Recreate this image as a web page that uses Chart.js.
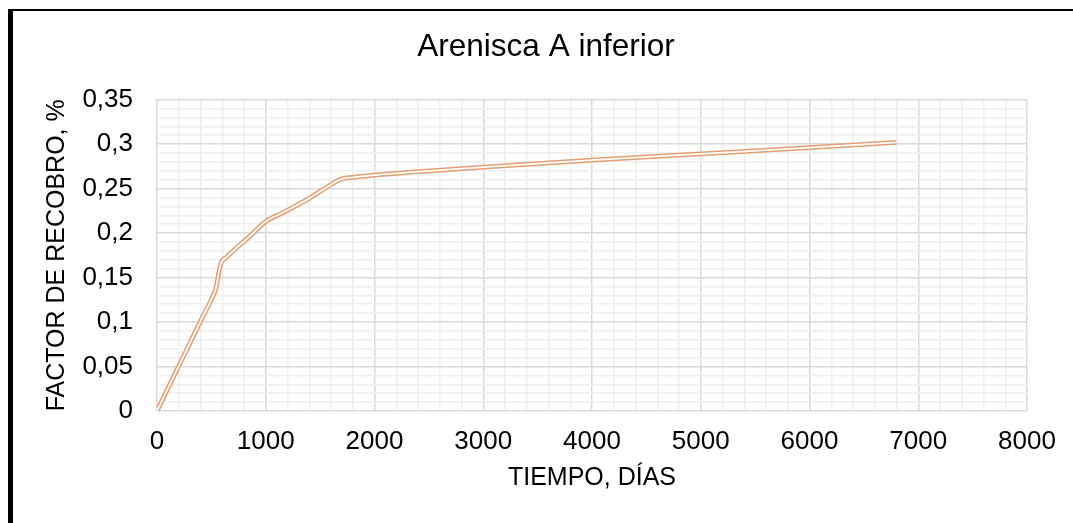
<!DOCTYPE html>
<html>
<head>
<meta charset="utf-8">
<script src="https://cdn.jsdelivr.net/npm/chart.js@4"></script>
<style>
  body { margin: 0; background: #fff; overflow: hidden; }
  .marco { position: absolute; left: 8px; top: 9px; width: 2000px; height: 1000px;
           border-left: 5px solid #000; border-top: 2px solid #000; }
  #grafico { position: absolute; left: 0; top: 0; }
</style>
</head>
<body>
<div class="marco"></div>
<canvas id="grafico" width="1073" height="523"></canvas>
<script>
// datos
const dias = [0, 130, 270, 400, 510, 540, 585, 640, 700, 850, 1000, 1150, 1400, 1620, 1700, 1800, 2000, 3000, 4000, 5000, 6000, 6800];
const factorRecobro = [0, 0.033, 0.068, 0.101, 0.128, 0.137, 0.165, 0.173, 0.18, 0.196, 0.213, 0.2225, 0.239, 0.256, 0.261, 0.2625, 0.265, 0.274, 0.282, 0.289, 0.296, 0.302];
const ticksX = ["0", "1000", "2000", "3000", "4000", "5000", "6000", "7000", "8000"];
const ticksY = ["0", "0,05", "0,1", "0,15", "0,2", "0,25", "0,3", "0,35"];

const puntos = dias.map((d, i) => ({ x: d, y: factorRecobro[i] }));
const fuente = "'Liberation Sans', Arial, sans-serif";

const colorMayor = "#d9d9d9";
const colorMenor = "#efefef";

new Chart(document.getElementById("grafico"), {
  type: "line",
  data: {
    datasets: [
      {
        // linea interior blanca (linea doble)
        data: puntos,
        borderColor: "#ffffff",
        borderWidth: 1.8,
        pointRadius: 0,
        cubicInterpolationMode: "monotone",
        order: 1,
      },
      {
        data: puntos,
        borderColor: "#e39e72",
        borderWidth: 4.8,
        pointRadius: 0,
        cubicInterpolationMode: "monotone",
        order: 2,
      },
    ],
  },
  options: {
    responsive: false,
    animation: false,
    layout: { padding: { left: 65, right: 46, top: 0, bottom: 0 } },
    plugins: {
      legend: { display: false },
      tooltip: { enabled: false },
      title: {
        display: true,
        text: "Arenisca A inferior",
        color: "#000",
        font: { family: fuente, size: 31.5, weight: "normal" },
        padding: { top: 28, bottom: 33.8 },
      },
    },
    scales: {
      x: {
        type: "linear",
        min: 0,
        max: 8000,
        afterFit: (s) => { s.height = 112; },
        ticks: {
          stepSize: 200,
          autoSkip: false,
          maxRotation: 0,
          minRotation: 0,
          padding: 15,
          color: "#000",
          font: { family: fuente, size: 26 },
          callback: (v) => (v % 1000 === 0 ? ticksX[v / 1000] : ""),
        },
        grid: {
          drawTicks: false,
          lineWidth: 1.5,
          color: (c) => (c.tick && c.tick.value % 1000 === 0 ? colorMayor : colorMenor),
        },
        border: { display: false },
        title: {
          display: true,
          text: "TIEMPO, DÍAS",
          color: "#000",
          font: { family: fuente, size: 25 },
          padding: { top: 0, bottom: 30 },
        },
      },
      y: {
        min: 0,
        max: 0.35,
        afterFit: (s) => { s.width = 92; },
        ticks: {
          stepSize: 0.01,
          autoSkip: false,
          padding: 24,
          color: "#000",
          font: { family: fuente, size: 26 },
          callback: (v) => {
            const k = Math.round(v * 100);
            return k % 5 === 0 ? ticksY[k / 5] : "";
          },
        },
        grid: {
          drawTicks: false,
          lineWidth: 1.5,
          color: (c) => (c.tick && Math.round(c.tick.value * 100) % 5 === 0 ? colorMayor : colorMenor),
        },
        border: { display: false },
        title: {
          display: true,
          text: "FACTOR DE RECOBRO, %",
          color: "#000",
          font: { family: fuente, size: 25 },
          padding: { top: -23, bottom: 0 },
        },
      },
    },
  },
});
</script>
</body>
</html>
